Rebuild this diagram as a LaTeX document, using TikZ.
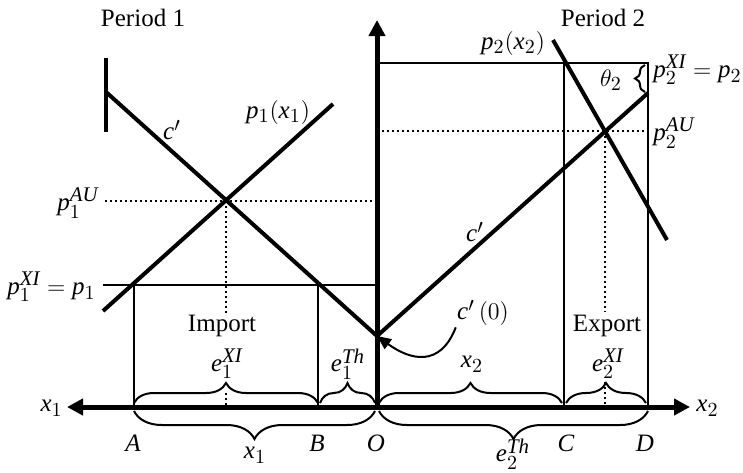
\documentclass[tikz,border=0pt]{standalone}
\usepackage{fontspec}
\setmainfont{Liberation Serif}
\usepackage[italic]{mathastext}
\usetikzlibrary{arrows.meta,decorations.pathreplacing}

\begin{document}
\begin{tikzpicture}[x=0.5pt,y=-0.5pt, every node/.style={font=\fontsize{12.5}{14}\selectfont,inner sep=0.5pt},
  >={Triangle[length=8pt,width=8pt]},
  axis/.style={line width=2.5pt},
  curve/.style={line width=2pt},
  thin/.style={line width=1pt},
  dots/.style={line width=1pt,dash pattern=on 1.2pt off 1.3pt},
  brup/.style={decorate,decoration={brace,amplitude=10pt},line width=1pt},
  brdn/.style={decorate,decoration={brace,amplitude=14pt,mirror},line width=1pt}]
\useasboundingbox (0,0) rectangle (743,472);

% origin and the points on the quantity axes
\coordinate (O) at (377,407);
\coordinate (A) at (134,407);
\coordinate (B) at (318,407);
\coordinate (C) at (564,407);
\coordinate (D) at (648,407);
\coordinate (c0) at (377,336);

% period 1
\draw[curve] (106,58) -- (106,132);
\draw[curve] (106,92) -- (c0);
\draw[curve] (103,311) -- (333,104);
\draw[thin] (103,285) -- (377,285);
\draw[thin] (134,285) -- (A);
\draw[thin] (318,285) -- (B);
\draw[dots] (105,201) -- (377,201);
\draw[dots] (226,201) -- (226,314);
\draw[dots] (226,393) -- (226,407);

% period 2
\draw[thin] (377,63) -- (648,63) -- (D);
\draw[thin] (564,63) -- (C);
\draw[curve] (c0) -- (648,93);
\draw[curve] (553,40) -- (667,240);
\draw[dots] (377,131) -- (648,131);
\draw[dots] (605,131) -- (605,312);
\draw[dots] (605,382) -- (605,407);

% axes
\draw[axis,->] (O) -- (377,20);
\draw[axis,<->] (67,407) -- (690,407);

% braces
\draw[brup] (134,403) -- (318,403);
\draw[brup] (320,403) -- (375,403);
\draw[brup] (379,403) -- (562,403);
\draw[brup] (566,403) -- (646,403);
\draw[brdn] (134,411) -- (375,411);
\draw[brdn] (379,411) -- (648,411);
\draw[decorate,decoration={brace,amplitude=5pt},line width=1pt] (645,92) -- (645,65);

% labels
\node (per1) at (143,18) {Period 1};
\node (per2) at (603,18) {Period 2};
\node[anchor=east] (pau1) at (100,203) {$p_1^{AU}$};
\node[anchor=east] (pxi1) at (97,287) {$p_1^{XI} = p_1$};
\node (cl1) at (172,130) {$c'$};
\node (dem1) at (278,112) {$p_1(x_1)$};
\node (imp) at (222,326) {Import};
\node (exi1) at (227,364) {$e_1^{XI}$};
\node (eth1) at (348,364) {$e_1^{Th}$};
\node[anchor=east] (xa1) at (64,408) {$x_1$};
\node (lA) at (133,443) {$A$};
\node (lB) at (317,443) {$B$};
\node (lO) at (376,443) {$O$};
\node (xb1) at (255,455) {$x_1$};
\node (xa2) at (472,364) {$x_2$};
\node (exp) at (607,326) {Export};
\node (exi2) at (608,364) {$e_2^{XI}$};
\node (eth2) at (513,454) {$e_2^{Th}$};
\node (lC) at (566,443) {$C$};
\node (lD) at (645,443) {$D$};
\node[anchor=west] (xb2) at (695,408) {$x_2$};
\node (dem2) at (513,43) {$p_2(x_2)$};
\node[anchor=west] (pxi2) at (652,70) {$p_2^{XI} = p_2$};
\node[anchor=west] (pau2) at (652,133) {$p_2^{AU}$};
\node (th2) at (611,80) {$\theta_2$};
\node (cl2) at (475,232) {$c'$};
\node (cz) at (483,313) {$c'\,(0)$};

\draw[thin,-{Triangle[length=7pt,width=6pt]}] (cz.south west) .. controls (440,368) and (410,360) .. (c0);
\end{tikzpicture}
\end{document}
